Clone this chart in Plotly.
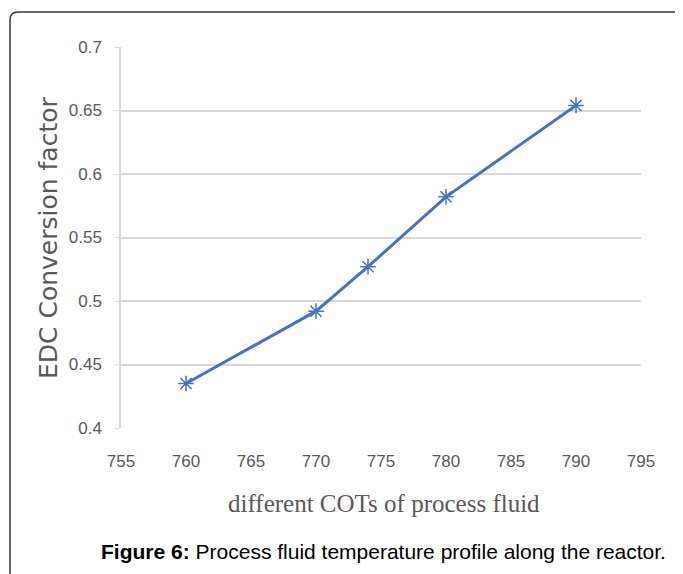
import plotly.graph_objects as go

cot = [760, 770, 774, 780, 790]
edc_conversion = [0.435, 0.492, 0.527, 0.582, 0.654]
x_ticks = [755, 760, 765, 770, 775, 780, 785, 790, 795]
y_ticks = [0.4, 0.45, 0.5, 0.55, 0.6, 0.65, 0.7]
y_tick_labels = ["0.4", "0.45", "0.5", "0.55", "0.6", "0.65", "0.7"]

OFF = 8  # page body margin
W, H = 683 - OFF, 574 - OFF
L, T = 121 - OFF, 47 - OFF
R = 683 - 641
B = 574 - 428
pw, ph = W - L - R, H - T - B

def px(x):
    return (x - OFF - L) / pw

def py(y):
    return (428 - y) / ph

tick_font = dict(family="Liberation Sans, Arial, sans-serif", size=17, color="#595959")

fig = go.Figure()
fig.add_trace(go.Scatter(
    x=cot, y=edc_conversion, mode="lines+markers",
    line=dict(color="#4472C4", width=3),
    marker=dict(symbol="asterisk-open", size=13, color="#4472C4", line=dict(color="#4472C4", width=1.5)),
    showlegend=False,
))

fig.update_layout(
    width=W, height=H,
    margin=dict(l=L, r=R, t=T, b=B),
    paper_bgcolor="white", plot_bgcolor="white",
    xaxis=dict(range=[755, 795], tickvals=x_ticks, showgrid=False, zeroline=False,
               showline=False, ticks="", tickfont=tick_font, ticklabelstandoff=21),
    yaxis=dict(range=[0.4, 0.7], tickvals=y_ticks, ticktext=y_tick_labels,
               showgrid=True, gridcolor="#d9d9d9", gridwidth=1.5, zeroline=False,
               showline=True, linecolor="#d9d9d9", linewidth=1.5,
               ticks="outside", ticklen=4, tickcolor="#d9d9d9",
               tickfont=tick_font, ticklabelstandoff=10),
    annotations=[
        dict(text="EDC Conversion factor", xref="paper", yref="paper",
             x=px(49), y=py(238), textangle=-90, showarrow=False,
             font=dict(family="DejaVu Sans, sans-serif", size=25, color="#595959"),
             xanchor="center", yanchor="middle"),
        dict(text="different COTs of process fluid", xref="paper", yref="paper",
             x=px(384), y=py(503), showarrow=False,
             font=dict(family="Liberation Serif, serif", size=25, color="#595959"),
             xanchor="center", yanchor="middle"),
        dict(text="<b>Figure 6:</b> Process fluid temperature profile along the reactor.",
             xref="paper", yref="paper", x=px(383), y=py(551), showarrow=False,
             font=dict(family="Liberation Sans, Arial, sans-serif", size=21, color="#000000"),
             xanchor="center", yanchor="middle"),
    ],
    shapes=[
        dict(type="path", xref="paper", yref="paper",
             path=f"M {px(10)},{py(580)} L {px(10)},{py(20)} Q {px(10)},{py(12)} {px(18)},{py(12)} L {px(690)},{py(12)}",
             line=dict(color="#333333", width=1.5)),
    ],
)

fig.write_html("out.html")
